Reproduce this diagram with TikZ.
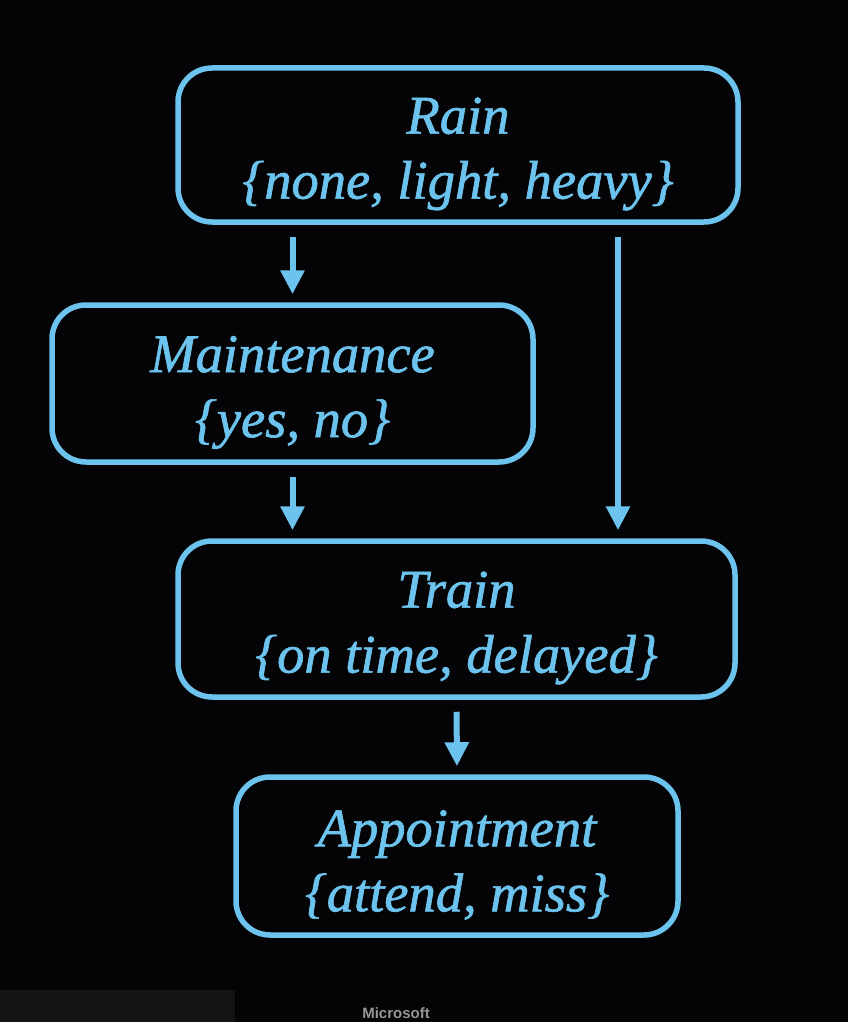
\documentclass[tikz,border=0pt]{standalone}
\usepackage{fontspec}
\setmainfont{Liberation Serif}
\newfontfamily\lblfont[ItalicFeatures={FakeBold=1.2}]{Liberation Serif}
\newfontfamily\msfont{Liberation Sans}
\usetikzlibrary{arrows.meta}
\definecolor{sky}{RGB}{108,196,238}
\definecolor{bg}{RGB}{4,4,6}
\definecolor{strip}{RGB}{20,20,20}
\definecolor{msgray}{RGB}{150,150,150}
\tikzset{
  varbox/.style={draw=sky, line width=5.5pt, rounded corners=34pt, inner sep=0pt},
  lbl/.style={text=sky, align=center, inner sep=0pt,
    font=\lblfont\fontsize{54.5}{65}\selectfont\itshape},
  arr/.style={draw=sky, line width=6pt, -{Triangle[width=23pt,length=24pt]},
    shorten <=12pt, shorten >=8pt}
}
\begin{document}
\begin{tikzpicture}[x=1pt,y=1pt]
\fill[bg] (0,0) rectangle (848,-1022);
\useasboundingbox (0,0) rectangle (848,-1022);
\fill[strip] (0,-990) rectangle (235,-1022);
\node[varbox, minimum width=560pt, minimum height=154pt] (rain) at (458,-145) {};
\node[varbox, minimum width=481pt, minimum height=157pt] (maint) at (292.5,-383.5) {};
\node[varbox, minimum width=557pt, minimum height=156pt] (train) at (456.5,-619) {};
\node[varbox, minimum width=442pt, minimum height=158pt] (appt) at (457,-856) {};
\node[lbl] (rainl) at ([yshift=-9pt]rain.center) {Rain\\\{none, light, heavy\}};
\node[lbl] (maintl) at ([yshift=-9pt]maint.center) {Maintenance\\\{yes, no\}};
\node[lbl] (trainl) at ([yshift=-9pt]train.center) {Train\\\{on time, delayed\}};
\node[lbl] (apptl) at ([yshift=-9pt]appt.center) {Appointment\\\{attend, miss\}};
\coordinate (rt) at (618,0);
\draw[arr] (rain.south -| maint.north) -- (maint.north);
\draw[arr] (rain.south -| rt) -- (train.north -| rt);
\draw[arr] (maint.south) -- (train.north -| maint.south);
\draw[arr] (train.south) -- (appt.north);
\node[text=msgray, font=\msfont\bfseries\fontsize{15}{15}\selectfont, anchor=base] (ms) at (396,-1018) {Microsoft};
\end{tikzpicture}
\end{document}
